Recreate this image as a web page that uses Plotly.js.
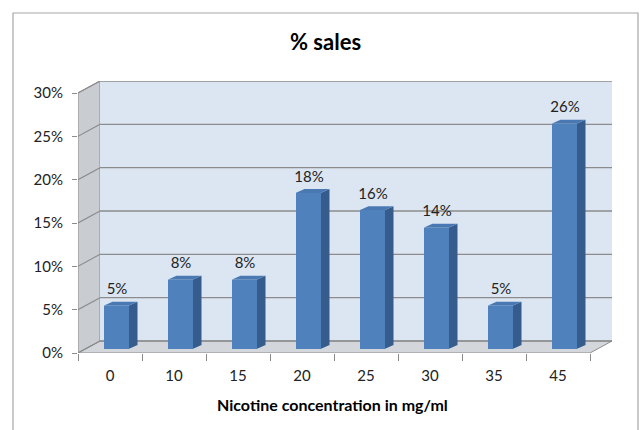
<!DOCTYPE html>
<html>
<head>
<meta charset="utf-8">
<script src="https://cdn.plot.ly/plotly-3.0.1.min.js"></script>
<style>html,body{margin:0;padding:0;background:#fff;}#chart{width:641px;height:430px;}</style>
</head>
<body>
<div id="chart"></div>
<script>
// ---- data ----
const categories = ["0", "10", "15", "20", "25", "30", "35", "45"];
const salesShare = [0.05, 0.08, 0.08, 0.18, 0.16, 0.14, 0.05, 0.26];
const valueLabels = ["5%", "8%", "8%", "18%", "16%", "14%", "5%", "26%"];
const yTickValues = [0, 0.05, 0.10, 0.15, 0.20, 0.25, 0.30];
const yTickLabels = ["0%", "5%", "10%", "15%", "20%", "25%", "30%"];
const chartTitle = "% sales";
const xAxisTitle = "Nicotine concentration in mg/ml";

// ---- geometry (pixels -> axis units) ----
const W = 641, H = 430;
const M = {l: 78, r: 29, t: 81, b: 77};
const plotW = W - M.l - M.r, plotH = H - M.t - M.b;
const catPx = 64;               // pixels per category on the front axis
const PX = 1 / catPx;           // x units per pixel
const yMax = 0.30, frontPxPerMax = 260;
const PY = yMax / frontPxPerMax; // y units per pixel
const xRange = [-0.5, -0.5 + plotW * PX];
const yRange = [0, plotH * PY];
const depthX = 22 * PX, depthY = 12 * PY;     // wall depth
const barOffX = 6 * PX, barOffY = 4 * PY;     // bar front plane offset
const barW = 25 * PX, barDX = 9 * PX, barDY = 4 * PY;

const FONT = "Lato, 'Open Sans', sans-serif";
const gridColor = "#8c8c8c";
const shapes = [];
const xL = xRange[0], xFR = categories.length - 0.5, xBR = xRange[1];
// side wall
shapes.push({type: "path", xref: "x", yref: "y", layer: "below",
  path: `M${xL},0 L${xL + depthX},${depthY} L${xL + depthX},${yMax + depthY} L${xL},${yMax} Z`,
  fillcolor: "#c9ccd1", line: {color: gridColor, width: 1}});
// back wall
shapes.push({type: "path", xref: "x", yref: "y", layer: "below",
  path: `M${xL + depthX},${depthY} L${xBR},${depthY} L${xBR},${yMax + depthY} L${xL + depthX},${yMax + depthY} Z`,
  fillcolor: "#dce6f2", line: {width: 0}});
// floor
shapes.push({type: "path", xref: "x", yref: "y", layer: "below",
  path: `M${xL},0 L${xFR},0 L${xBR},${depthY} L${xL + depthX},${depthY} Z`,
  fillcolor: "#d3d6db", line: {color: gridColor, width: 1}});
// gridlines
yTickValues.forEach(v => {
  shapes.push({type: "line", xref: "x", yref: "y", layer: "below",
    x0: xL, y0: v, x1: xL + depthX, y1: v + depthY, line: {color: gridColor, width: 1.2}});
  shapes.push({type: "line", xref: "x", yref: "y", layer: "below",
    x0: xL + depthX, y0: v + depthY, x1: xBR, y1: v + depthY, line: {color: gridColor, width: 1.4}});
});
// bar sides and tops
salesShare.forEach((v, i) => {
  const x0 = i + barOffX - barW / 2, x1 = i + barOffX + barW / 2;
  const yb = barOffY, yt = v + barOffY;
  shapes.push({type: "path", xref: "x", yref: "y", layer: "below",
    path: `M${x1},${yb} L${x1 + barDX},${yb + barDY} L${x1 + barDX},${yt + barDY} L${x1},${yt} Z`,
    fillcolor: "#355c8c", line: {width: 0}});
  shapes.push({type: "path", xref: "x", yref: "y", layer: "below",
    path: `M${x0},${yt} L${x1},${yt} L${x1 + barDX},${yt + barDY} L${x0 + barDX},${yt + barDY} Z`,
    fillcolor: "#4a78b2", line: {width: 0}});
});
// outer frame
shapes.push({type: "rect", xref: "paper", yref: "paper", layer: "above",
  x0: (13 - M.l) / plotW, x1: (638 - M.l) / plotW,
  y0: (H - M.b - 460) / plotH, y1: (H - M.b - 13) / plotH,
  line: {color: "#a6a6a6", width: 1.2}, fillcolor: "rgba(0,0,0,0)"});

const idx = categories.map((c, i) => i);
const traces = [
  {type: "bar", x: idx, y: salesShare, base: barOffY, width: barW, offset: barOffX - barW / 2,
   marker: {color: "#4f81bd", line: {width: 0}}, hoverinfo: "skip", showlegend: false},
  {type: "scatter", mode: "text", x: idx.map(i => i + barOffX + 1 * PX),
   y: salesShare.map(v => v + barOffY + 15 * PY), text: valueLabels, textposition: "middle center",
   textfont: {family: FONT, size: 15, color: "#222"}, hoverinfo: "skip",
   showlegend: false, cliponaxis: false}
];

const layout = {
  width: W, height: H, margin: M, paper_bgcolor: "#fff", plot_bgcolor: "rgba(0,0,0,0)",
  showlegend: false, bargap: 0,
  font: {family: FONT, size: 15, color: "#222"},
  xaxis: {range: xRange, tickvals: idx, ticktext: categories, ticks: "", showgrid: false,
    zeroline: false, showline: false, ticklabelstandoff: 12, fixedrange: true,
    minor: {tickvals: categories.map((c, i) => i - 0.5).concat([categories.length - 0.5]),
      ticks: "outside", ticklen: 7, tickcolor: gridColor, tickwidth: 1, showgrid: false}},
  yaxis: {range: yRange, tickvals: yTickValues, ticktext: yTickLabels, ticks: "outside", ticklen: 5,
    tickcolor: gridColor, showgrid: false, zeroline: false, showline: false, fixedrange: true,
    ticklabelstandoff: 6},
  shapes: shapes,
  annotations: [
    {text: "<b>" + chartTitle + "</b>", xref: "paper", yref: "paper",
     x: (325 - M.l) / plotW, y: (H - M.b - 41) / plotH, xanchor: "center", yanchor: "middle",
     showarrow: false, font: {size: 22, color: "#000"}},
    {text: "<b>" + xAxisTitle + "</b>", xref: "paper", yref: "paper",
     x: (332 - M.l) / plotW, y: (H - M.b - 404) / plotH, xanchor: "center", yanchor: "middle",
     showarrow: false, font: {size: 16, color: "#000"}}
  ]
};
Plotly.newPlot("chart", traces, layout, {displayModeBar: false, staticPlot: true});
</script>
</body>
</html>
